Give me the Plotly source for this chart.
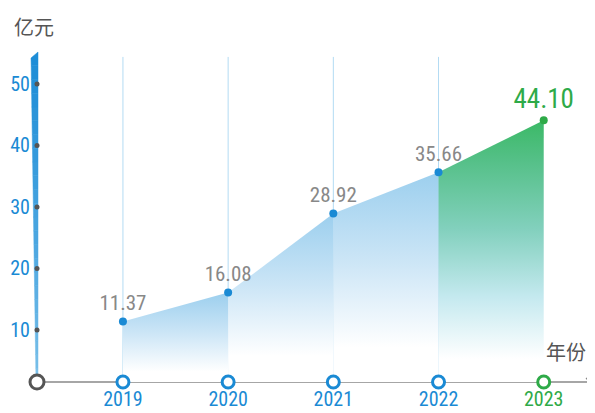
import plotly.graph_objects as go

years = ["2019", "2020", "2021", "2022", "2023"]
values = [11.37, 16.08, 28.92, 35.66, 44.10]
labels = ["11.37", "16.08", "28.92", "35.66", "44.10"]
y_ticks = [10, 20, 30, 40, 50]

BLUE = "#1a8ad4"
GREEN = "#2eaa48"
GREY = "#888888"
NUM_FONT = "Roboto Condensed, Roboto, sans-serif"
CJK_FONT = "Noto Sans CJK SC, sans-serif"

xr = [-0.817, 4.44]
yr = [1.54, 55.2]
xs = list(range(len(years)))

fig = go.Figure()

for i in xs[:-1]:
    fig.add_trace(go.Scatter(x=[i, i], y=[yr[0], 54.4], mode="lines",
                             line=dict(color="#b3dbf3", width=1),
                             hoverinfo="skip", showlegend=False))

blue_scale = [[0, "#ffffff"], [0.2, "#ffffff"], [0.6, "#cbe5f6"], [1, "#9ccfee"]]
green_scale = [[0, "#ffffff"], [0.12, "#ffffff"], [0.35, "#c4e9ef"],
               [0.6, "#82d0bd"], [0.85, "#55c088"], [1, "#3bb966"]]

for i in range(len(values) - 1):
    scale = green_scale if i == len(values) - 2 else blue_scale
    fig.add_trace(go.Scatter(x=[xs[i], xs[i + 1]], y=[values[i], values[i + 1]],
                             mode="lines", line=dict(width=0),
                             fill="tozeroy",
                             fillgradient=dict(type="vertical", colorscale=scale),
                             hoverinfo="skip", showlegend=False))

fig.add_trace(go.Scatter(x=[xr[0]] * len(y_ticks), y=y_ticks, mode="markers",
                         marker=dict(color="#555555", size=5),
                         cliponaxis=False, hoverinfo="skip", showlegend=False))

pt_colors = [BLUE] * 4 + [GREEN]
lab_colors = [GREY] * 4 + [GREEN]
lab_sizes = [21] * 4 + [27]
fig.add_trace(go.Scatter(x=xs, y=values, mode="markers+text",
                         marker=dict(color=pt_colors, size=8),
                         text=labels, textposition="top center",
                         textfont=dict(family=NUM_FONT, color=lab_colors, size=lab_sizes),
                         cliponaxis=False, showlegend=False))

fig.add_trace(go.Scatter(x=xs, y=[yr[0]] * len(xs), mode="markers",
                         marker=dict(color="white", size=12,
                                     line=dict(color=pt_colors, width=3)),
                         cliponaxis=False, hoverinfo="skip", showlegend=False))
fig.add_trace(go.Scatter(x=[xr[0]], y=[yr[0]], mode="markers",
                         marker=dict(color="white", size=14,
                                     line=dict(color="#555555", width=3)),
                         cliponaxis=False, hoverinfo="skip", showlegend=False))

tick_text = [f'<span style="color:{c}">{y}</span>' for y, c in zip(years, pt_colors)]

# tapered, gradient y-axis bar built from thin slices (decoration)
def lerp(a, b, t):
    return a + (b - a) * t

def mix(c1, c2, t):
    a = [int(c1[k:k + 2], 16) for k in (1, 3, 5)]
    b = [int(c2[k:k + 2], 16) for k in (1, 3, 5)]
    return "#" + "".join(f"{round(lerp(p, q, t)):02x}" for p, q in zip(a, b))

bar_shapes = []
n = 24
for k in range(n):
    y0 = k / n
    y1 = (k + 1) / n
    l0 = lerp(-0.00181, -0.01085, y0)
    l1 = lerp(-0.00181, -0.01085, y1)
    top_r = 1.0 if k == n - 1 else y1
    top_l = 0.9818 if k == n - 1 else y1
    col = mix("#7cc1ea", "#1a8bd6", y0 ** 0.8)
    bar_shapes.append(dict(type="path", xref="paper", yref="paper",
                           path=f"M {l0},{y0} L 0.00181,{y0} L 0.00181,{top_r} L {l1},{top_l} Z",
                           fillcolor=col, line=dict(color=col, width=0.5), layer="below"))

# page body has an 8px default margin: figure is laid out inside 587x405
fig.update_layout(
    width=587, height=405,
    margin=dict(l=29, r=5, t=44, b=31),
    plot_bgcolor="white", paper_bgcolor="white",
    xaxis=dict(range=xr, tickvals=xs, ticktext=tick_text, showgrid=False,
               zeroline=False, showline=False, ticks="", automargin=False,
               ticklabelstandoff=3,
               tickfont=dict(family=NUM_FONT, size=20, color=BLUE)),
    yaxis=dict(range=yr, tickvals=y_ticks, showgrid=False,
               zeroline=False, showline=False, ticks="", ticklabelstandoff=6,
               automargin=False,
               tickfont=dict(family=NUM_FONT, size=20, color=BLUE)),
    shapes=[
        dict(type="line", xref="paper", yref="paper", x0=0, x1=1.0, y0=0, y1=0,
             line=dict(color=GREY, width=1.5), layer="below"),
        dict(type="line", xref="paper", yref="paper", x0=0.993, x1=1.0, y0=0.012, y1=0,
             line=dict(color=GREY, width=1.5), layer="below"),
    ] + bar_shapes,
    annotations=[
        dict(text="亿元", xref="paper", yref="paper", x=-0.045, y=1.076,
             xanchor="left", yanchor="middle", showarrow=False,
             font=dict(family=CJK_FONT, size=20, color="#555555")),
        dict(text="年份", xref="paper", yref="paper", x=0.996, y=0.091,
             xanchor="right", yanchor="middle", showarrow=False,
             font=dict(family=CJK_FONT, size=20, color="#555555")),
    ],
)

fig.write_html("out.html")
